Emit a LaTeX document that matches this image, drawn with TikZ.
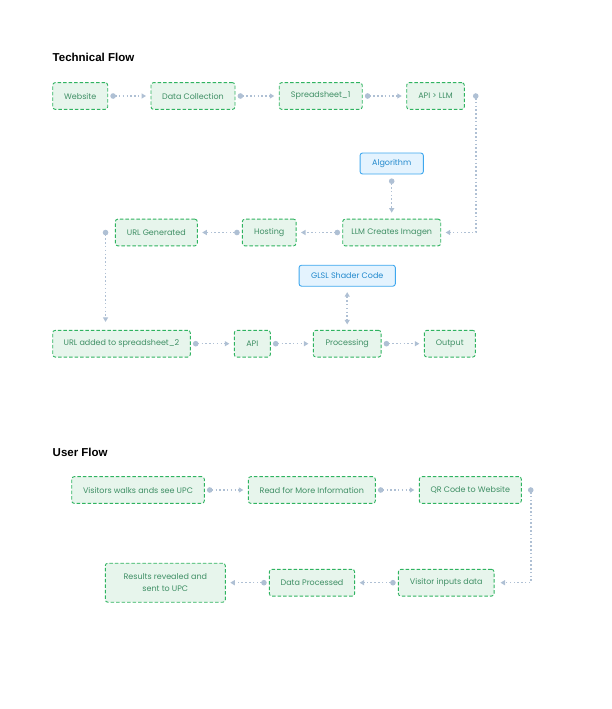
\documentclass[tikz,border=0pt]{standalone}
\usepackage{fontspec}
\setmainfont{Poppins}
\newfontfamily\headfont{Liberation Sans}
\usepackage{tikz}
\usetikzlibrary{arrows.meta}
\definecolor{boxgreen}{HTML}{E7F5EC}
\definecolor{edgegreen}{HTML}{2FB360}
\definecolor{txtgreen}{HTML}{3F8F65}
\definecolor{boxblue}{HTML}{E4F3FE}
\definecolor{edgeblue}{HTML}{3EA7EE}
\definecolor{txtblue}{HTML}{2289CD}
\definecolor{linkgray}{HTML}{AFC0D4}
\tikzstyle{stepbox}=[draw=edgegreen, fill=boxgreen, dash pattern=on 3.5pt off 2pt, line width=0.9pt, rounded corners=2.5pt, text=txtgreen, font=\fontsize{8}{12}\selectfont, minimum height=26.7pt, inner sep=2pt, align=center]
\tikzstyle{toolbox}=[draw=edgeblue, fill=boxblue, line width=0.9pt, rounded corners=2.5pt, text=txtblue, font=\fontsize{8}{12}\selectfont, minimum height=21pt, inner sep=2pt]
\tikzstyle{link}=[linkgray, line width=1.5pt, dash pattern=on 1.5pt off 2.3pt, {Circle[length=5.5pt]}-{Triangle[length=4.5pt,width=5pt]}, shorten <=2.2pt, shorten >=4.5pt]
\tikzstyle{elbow}=[link, shorten <=-2.7pt]
\tikzstyle{twoway}=[linkgray, line width=1.5pt, dash pattern=on 1.5pt off 2.3pt, {Triangle[length=4.5pt,width=5pt]}-{Triangle[length=4.5pt,width=5pt]}, shorten <=5.5pt, shorten >=5.5pt]
\tikzstyle{heading}=[anchor=west, inner sep=0pt, font=\headfont\bfseries\fontsize{11.5}{13}\selectfont]

\begin{document}
\begin{tikzpicture}[x=1pt, y=-1pt]
  \useasboundingbox (0,0) rectangle (612,709);

  % technical flow
  \node[heading] (techtitle) at (52.5,57) {Technical Flow};
  \node[stepbox, minimum width=55pt] (website) at (80.2,96) {Website};
  \node[stepbox, minimum width=84pt] (datacol) at (193,96) {Data Collection};
  \node[stepbox, minimum width=83pt] (sheet1) at (320.7,96) {Spreadsheet\_1};
  \node[stepbox, minimum width=57.6pt] (apillm) at (435.5,96) {API > LLM};
  \node[toolbox, minimum width=63.3pt] (algo) at (391.7,163.5) {Algorithm};
  \node[stepbox, minimum width=98pt] (llm) at (391.7,232.5) {LLM Creates Imagen};
  \node[stepbox, minimum width=53.7pt] (hosting) at (269.2,232.5) {Hosting};
  \node[stepbox, minimum width=82pt] (urlgen) at (156.3,232.5) {URL Generated};
  \node[toolbox, minimum width=96.3pt] (glsl) at (347.2,275.7) {GLSL Shader Code};
  \node[stepbox, minimum width=137.6pt] (urladd) at (121.5,343.7) {URL added to spreadsheet\_2};
  \node[stepbox, minimum width=36pt] (api) at (252.3,343.7) {API};
  \node[stepbox, minimum width=67.7pt] (proc) at (347.2,343.7) {Processing};
  \node[stepbox, minimum width=51pt] (output) at (449.8,343.7) {Output};

  \coordinate (turnA) at ([xshift=11pt]apillm.east);
  \coordinate (turnB) at ([xshift=-9.3pt]urlgen.west);

  \draw[link] (website) -- (datacol);
  \draw[link] (datacol) -- (sheet1);
  \draw[link] (sheet1) -- (apillm);
  \draw[elbow] (turnA) |- (llm.east);
  \draw[link, shorten <=4pt, shorten >=6pt] (algo) -- (llm);
  \draw[link] (llm) -- (hosting);
  \draw[link] (hosting) -- (urlgen);
  \draw[elbow, shorten >=8pt] (turnB) -- (turnB |- urladd.north);
  \draw[link] (urladd) -- (api);
  \draw[link] (api) -- (proc);
  \draw[link] (proc) -- (output);
  \draw[twoway] (glsl) -- (proc);

  % user flow
  \node[heading] (usertitle) at (52.5,452.5) {User Flow};
  \node[stepbox, minimum width=132.6pt] (visitor) at (138,490) {Visitors walks ands see UPC};
  \node[stepbox, minimum width=127pt] (readmore) at (311.8,490) {Read for More Information};
  \node[stepbox, minimum width=102pt] (qrcode) at (470.3,490) {QR Code to Website};
  \node[stepbox, minimum width=95.7pt] (inputs) at (446.2,582.7) {Visitor inputs data};
  \node[stepbox, minimum width=85.3pt] (dataproc) at (312,582.7) {Data Processed};
  \node[stepbox, minimum width=120pt, minimum height=39pt] (results) at (165.3,582.7) {Results revealed and\\sent to UPC};

  \coordinate (turnC) at ([xshift=9pt]qrcode.east);

  \draw[link] (visitor) -- (readmore);
  \draw[link] (readmore) -- (qrcode);
  \draw[elbow, shorten >=6pt] (turnC) |- (inputs.east);
  \draw[link] (inputs) -- (dataproc);
  \draw[link] (dataproc) -- (results);
\end{tikzpicture}
\end{document}
